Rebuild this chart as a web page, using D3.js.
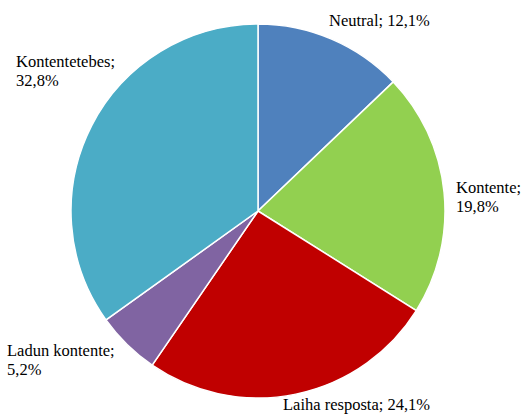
<!DOCTYPE html>
<html>
<head>
<meta charset="utf-8">
<script src="https://cdn.jsdelivr.net/npm/d3@7"></script>
<style>
  body { margin: 0; background: #fff; }
  text { font-family: "Liberation Serif", "DejaVu Serif", serif; font-size: 16.5px; fill: #000; }
</style>
</head>
<body>
<svg id="chart" width="522" height="414"></svg>
<script>
// data (clockwise from 12 o'clock)
var categories = ["Neutral", "Kontente", "Laiha resposta", "Ladun kontente", "Kontentetebes"];
var values = [12.1, 19.8, 24.1, 5.2, 32.8];
var colors = ["#4F81BD", "#92D050", "#C00000", "#8064A2", "#4BACC6"];

// label layout: [x, y of first baseline, split into two lines?]
var labelPos = [
  [329, 26, false],
  [456, 193, true],
  [283, 410, false],
  [7, 356, true],
  [16, 67, true]
];

var svg = d3.select('#chart');
var cx = 258, cy = 211, radius = 187;

var pie = d3.pie().sort(null).value(function(d) { return d; });
var arc = d3.arc().innerRadius(0).outerRadius(radius);

var g = svg.append('g').attr('transform', 'translate(' + cx + ',' + cy + ')');

g.selectAll('path')
  .data(pie(values))
  .enter()
  .append('path')
  .attr('d', arc)
  .attr('fill', function(d, i) { return colors[i]; })
  .attr('stroke', '#fff')
  .attr('stroke-width', 1.5);

// labels
var fmt = function(v) { return String(v.toFixed(1)).replace('.', ',') + '%'; };
categories.forEach(function(c, i) {
  var p = labelPos[i];
  var t = svg.append('text').attr('x', p[0]).attr('y', p[1]);
  if (p[2]) {
    t.append('tspan').attr('x', p[0]).text(c + ';');
    t.append('tspan').attr('x', p[0]).attr('dy', 19).text(fmt(values[i]));
  } else {
    t.text(c + '; ' + fmt(values[i]));
  }
});
</script>
</body>
</html>
